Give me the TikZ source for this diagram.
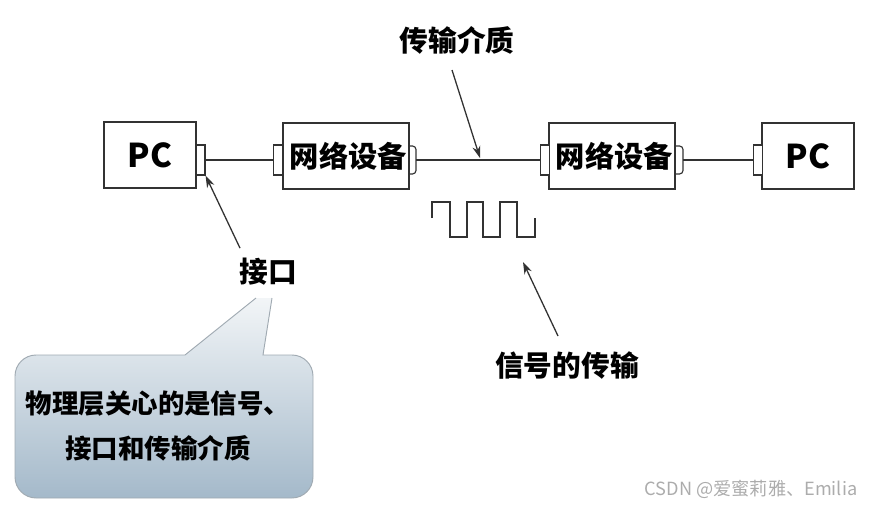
\documentclass[tikz,border=0pt]{standalone}
\usepackage{fontspec}
\newfontfamily\cjk{Noto Sans CJK SC}
\usetikzlibrary{arrows.meta,positioning,calc}
\definecolor{lnGray}{RGB}{50,50,50}
\definecolor{calTop}{RGB}{242,245,247}
\definecolor{calBot}{RGB}{164,185,202}
\definecolor{calEdge}{RGB}{160,170,178}
\tikzset{
  pcbox/.style={draw=lnGray, line width=1.1pt, minimum width=2.76cm, minimum height=1.98cm,
    inner sep=0pt, font=\cjk\bfseries\fontsize{28}{30}\selectfont},
  devbox/.style={draw=lnGray, line width=1.1pt, minimum width=3.78cm, minimum height=1.98cm,
    inner sep=0pt, font=\cjk\bfseries\fontsize{25}{28}\selectfont},
  port/.style={draw=lnGray, line width=1pt, fill=white, minimum width=0.27cm, minimum height=0.9cm, inner sep=0pt},
  wire/.style={lnGray, line width=1.2pt},
  callarrow/.style={-{Stealth[length=3.6mm,width=2.4mm]}, lnGray, line width=1.1pt},
  lbl/.style={inner sep=0pt, font=\cjk\bfseries\fontsize{24.5}{28}\selectfont},
}
\begin{document}
\begin{tikzpicture}[x=0.03cm, y=-0.03cm]
  \useasboundingbox (0,0) rectangle (878,509);
  % callout bubble with gradient fill
  \shade[top color=calTop, bottom color=calBot]
    (185,355) -- (256,298) -- (272,298) -- (263,355)
    [rounded corners=18] -- (313,355) -- (313,498) -- (15,498) -- (15,355)
    [sharp corners] -- cycle;
  \draw[calEdge, line width=0.8pt] (272,298) -- (263,355)
    [rounded corners=18] -- (313,355) -- (313,498) -- (15,498) -- (15,355)
    [sharp corners] -- (185,355) -- (256,298);
  \node[lbl, align=center, font=\cjk\bfseries\fontsize{22.6}{39}\selectfont] (note) at (158,426)
    {物理层关心的是信号、\\接口和传输介质};
  % devices
  \node[pcbox] (pcL) at (150,155) {PC};
  \node[port] (pcLp) at (200.5,160) {};
  \node[devbox] (ndA) at (346,156) {\hspace{4pt}网络设备};
  \node[port] (ndAp) at (278,160) {};
  \node[devbox] (ndB) at (612,156) {\hspace{4pt}网络设备};
  \node[port] (ndBp) at (545,160) {};
  \node[pcbox] (pcR) at (808,156) {PC};
  \node[port] (pcRp) at (758,160) {};
  % right-hand plugs of the network devices
  \coordinate (ndAo) at (416,160);
  \coordinate (ndBo) at (683,160);
  \draw[wire, line width=1pt, rounded corners=3] (ndA.east |- 0,146) -| (ndAo) |- (ndA.east |- 0,174);
  \draw[wire, line width=1pt, rounded corners=3] (ndB.east |- 0,146) -| (ndBo) |- (ndB.east |- 0,174);
  % cables
  \draw[wire] (pcLp.east) -- (ndAp.west);
  \draw[wire] (ndAo) -- (ndBp.west);
  \draw[wire] (ndBo) -- (pcRp.west);
  % square wave
  \draw[wire, line width=1.1pt] (432,218) -- (432,202) -- (450,202) -- (450,237) -- (467,237)
    -- (467,202) -- (483,202) -- (483,237) -- (500,237) -- (500,202) -- (517,202)
    -- (517,237) -- (535,237) -- (535,218);
  % labels and pointers
  \node[lbl] (medium) at (457,40) {传输介质};
  \coordinate (mediumTip) at (480,158);
  \draw[callarrow] (452,70) -- (mediumTip);
  \node[lbl] (iface) at (268,272) {接口};
  \draw[callarrow] (iface.north) ++(-28,-10) coordinate (ifaceTail) -- (pcLp.south east);
  \node[lbl] (signal) at (567,366) {信号的传输};
  \coordinate (waveTip) at (523,262);
  \draw[callarrow] (558,336) -- (waveTip);
  % watermark
  \node[inner sep=0pt, text=gray!65, font=\cjk\fontsize{15.5}{18}\selectfont] (mark) at (751,489)
    {CSDN @爱蜜莉雅、Emilia};
\end{tikzpicture}
\end{document}
